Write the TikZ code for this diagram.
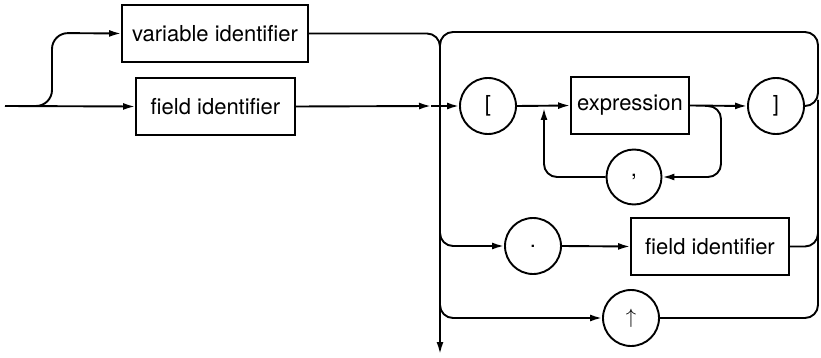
\documentclass[tikz,border=0pt]{standalone}
\usepackage{fontspec}
\setmainfont{TeX Gyre Heros}
\usetikzlibrary{arrows.meta}
\begin{document}
\begin{tikzpicture}[x=1pt,y=-1pt,
  line width=1.9pt,
  every node/.style={font=\fontsize{22}{26}\selectfont},
  box/.style={draw,rectangle,inner sep=0pt},
  term/.style={draw,circle,minimum size=56pt,inner sep=0pt},
  flow/.style={-{Latex[length=12pt,width=7pt]}},
  rc/.style={rounded corners=13pt}]
\useasboundingbox (0,0) rectangle (821,358);
% nodes
\node[box,minimum width=186pt,minimum height=57pt] (vid) at (215,33.5) {variable identifier};
\node[box,minimum width=159pt,minimum height=57pt] (fid) at (215.5,106.5) {field identifier};
\node[term] (lb) at (488,106) {[};
\node[box,minimum width=118pt,minimum height=57pt] (expr) at (630,105.5) {expression};
\node[term] (rb) at (776,106) {]};
\node[term,minimum size=55pt] (comma) at (634,177) {,};
\node[term] (dot) at (533,246) {.};
\node[box,minimum width=158pt,minimum height=57pt] (fid2) at (710,246.5) {field identifier};
\node[term] (up) at (631,318) {$\uparrow$};
% coordinates
\coordinate (start) at (5,106);
\coordinate (split) at (30,106);
\coordinate (j0) at (431,106);
\coordinate (exit) at (440,354);
\coordinate (loopin) at (544,108);
% connectors
\draw[flow] (start) -- (fid.west);
\draw[flow,rounded corners=16pt] (split) -| (52,33) -- (vid.west);
\draw[flow,rc] (vid.east) -| (exit);
\draw[flow] (fid.east) -- (j0);
\draw[flow] (j0) -- (lb.west);
\draw[flow] (lb.east) -- (expr.west);
\draw[flow] (expr.east) -- (rb.west);
\draw[flow,rc] (705,106) -| (721,177) -- (comma.east);
\draw[flow,rc] (comma.west) -| (loopin);
\draw[rc] (rb.east) -| (818,32) -| (440,60);
\draw[flow,rc] (440,215) |- (dot.west);
\draw[flow] (dot.east) -- (fid2.west);
\draw[rc] (fid2.east) -| (818,100);
\draw[flow,rc] (440,285) |- (up.west);
\draw[rc] (up.east) -| (818,100);
\end{tikzpicture}
\end{document}
